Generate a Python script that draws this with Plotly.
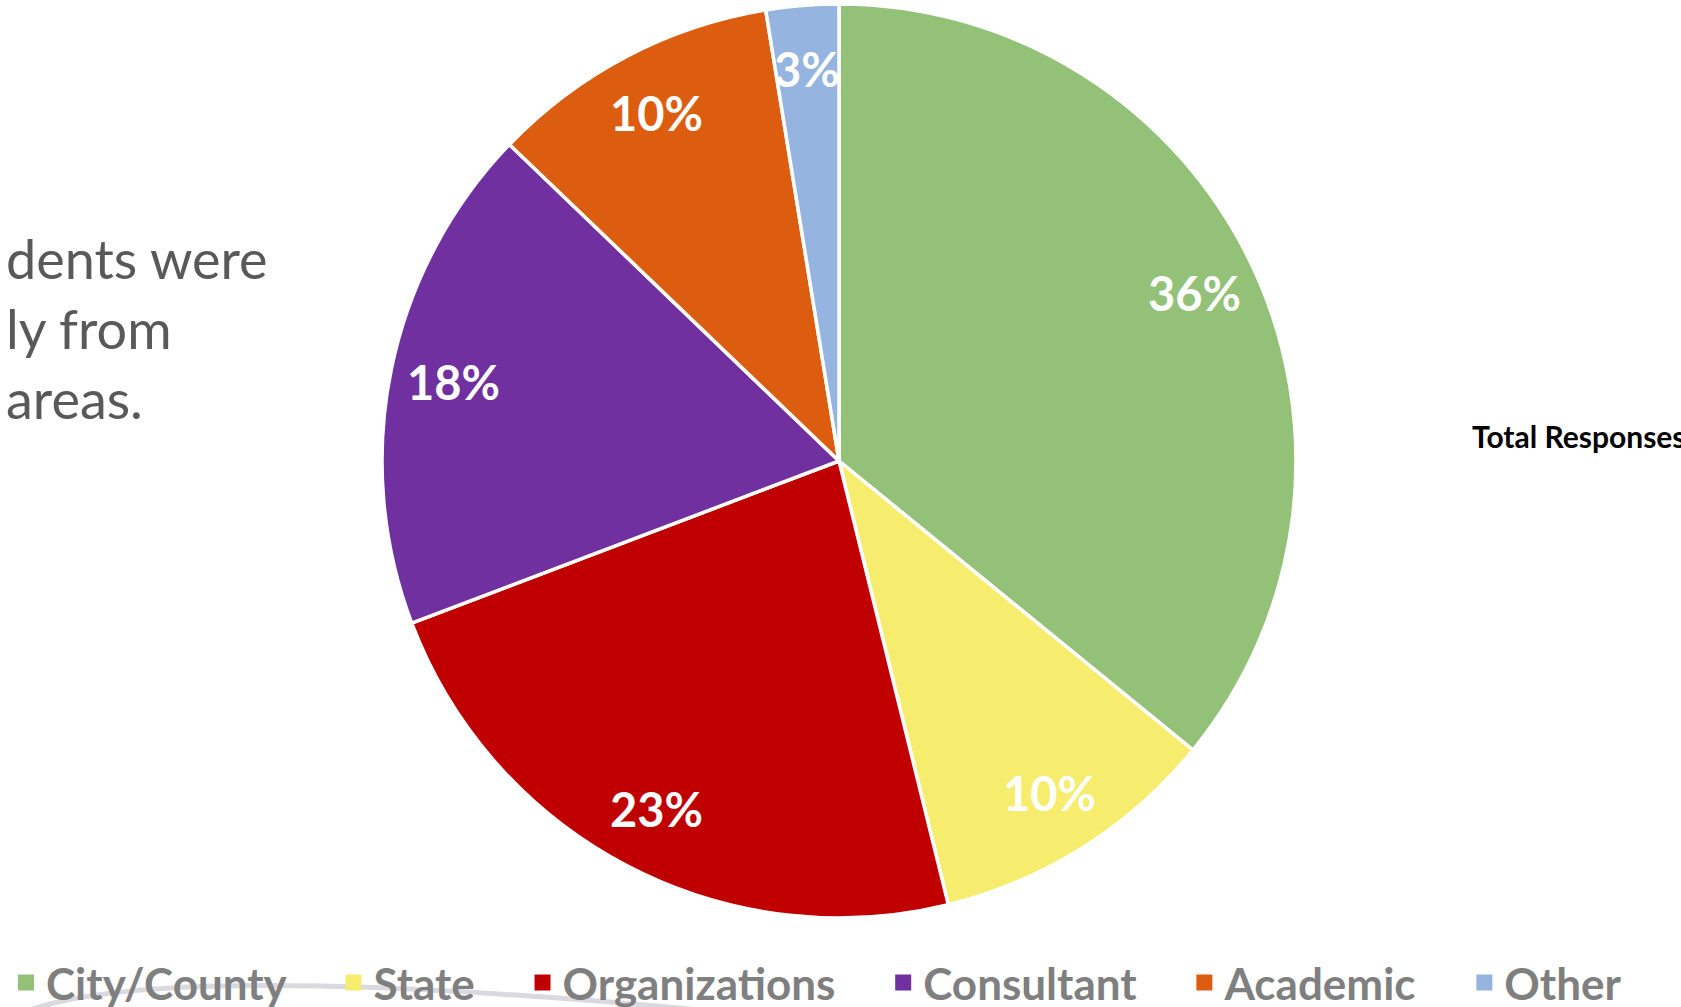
import math
import plotly.graph_objects as go

# response counts by sector (39 total)
sectors = ["City/County", "State", "Organizations", "Consultant", "Academic", "Other"]
responses = [14, 4, 9, 7, 4, 1]
colors = ["#93C178", "#F6ED6E", "#C00000", "#7030A0", "#DD5D10", "#95B4E0"]

side_text = "dents were<br>ly from<br>areas."

W, H = 1681, 1007
cx, cy, r = 839, 461, 457  # pie centre / radius in pixels


fig = go.Figure(
    go.Pie(
        labels=sectors,
        values=responses,
        marker=dict(colors=colors, line=dict(color="white", width=3.5)),
        sort=False,
        direction="clockwise",
        rotation=0,
        textinfo="none",
        hoverinfo="label+value+percent",
        showlegend=False,
        domain=dict(
            x=[(cx - r) / W, (cx + r) / W],
            y=[(H - cy - r) / H, (H - cy + r) / H],
        ),
    )
)

# legend entries (square swatches, like the original)
for name, col in zip(sectors, colors):
    fig.add_trace(go.Scatter(
        x=[None], y=[None], mode="markers", name=name + "\u00a0" * 4,
        marker=dict(symbol="square", size=16, color=col),
        hoverinfo="skip",
    ))

# percent labels along each slice's mid angle
total = sum(responses)
cum = 0
for v in responses:
    mid = (cum + v / 2) / total * 2 * math.pi
    cum += v
    rr = 0.86 * r
    fig.add_annotation(
        x=(cx + rr * math.sin(mid)) / W,
        y=(H - cy + rr * math.cos(mid)) / H,
        xref="paper", yref="paper",
        xanchor="center", yanchor="middle",
        text=f"{round(100 * v / total)}%",
        showarrow=False,
        font=dict(family="Lato", size=47, color="white", weight="bold"),
    )

fig.add_annotation(
    x=4 / W, y=(H - 328) / H, xref="paper", yref="paper",
    xanchor="left", yanchor="middle", align="left",
    text=side_text, showarrow=False,
    font=dict(family="Lato", size=54, color="#595959"),
)

fig.add_annotation(
    x=1470 / W, y=(H - 436) / H, xref="paper", yref="paper",
    xanchor="left", yanchor="middle",
    text="Total Responses", showarrow=False,
    font=dict(family="Lato", size=30, color="black", weight="bold"),
)

# faint decorative curve behind the legend
fig.add_shape(
    type="path", xref="paper", yref="paper",
    path=f"M {30/W},{-3/H} Q {170/W},{46/H} {700/W},{-3/H}",
    line=dict(color="#D9D9DF", width=5), layer="below",
)

fig.update_layout(
    template="plotly_white",
    width=W,
    height=H,
    margin=dict(l=0, r=0, t=0, b=0, autoexpand=False),
    paper_bgcolor="white",
    plot_bgcolor="white",
    xaxis=dict(visible=False),
    yaxis=dict(visible=False),
    showlegend=True,
    legend=dict(
        orientation="h",
        x=6 / W, xanchor="left",
        y=(H - 983) / H, yanchor="middle",
        font=dict(family="Lato", size=44, color="#7F7F7F", weight="bold"),
        bgcolor="rgba(0,0,0,0)",
    ),
)

fig.write_html(
    "out.html",
    config={"displayModeBar": False},
    post_script="document.body.style.margin='0px';",
)
